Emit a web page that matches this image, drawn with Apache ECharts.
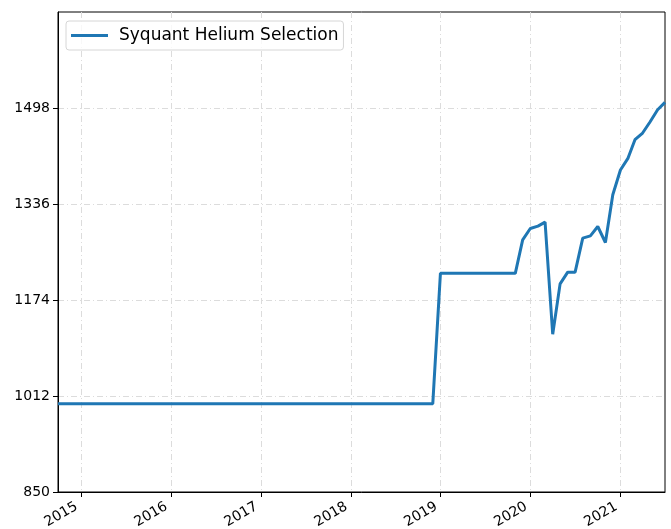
<!DOCTYPE html>
<html>
<head>
<meta charset="utf-8">
<script src="https://cdn.jsdelivr.net/npm/echarts@6/dist/echarts.min.js"></script>
<style>
  html, body { margin: 0; padding: 0; background: #fff; }
  #chart-container { width: 671px; height: 529px; }
</style>
</head>
<body>
<div id="chart-container"></div>
<script>
var seriesName = 'Syquant Helium Selection';

var dates = [
  '2014-09-30', '2014-10-31', '2014-11-30', '2014-12-31',
  '2015-01-31', '2015-02-28', '2015-03-31', '2015-04-30', '2015-05-31', '2015-06-30',
  '2015-07-31', '2015-08-31', '2015-09-30', '2015-10-31', '2015-11-30', '2015-12-31',
  '2016-01-31', '2016-02-29', '2016-03-31', '2016-04-30', '2016-05-31', '2016-06-30',
  '2016-07-31', '2016-08-31', '2016-09-30', '2016-10-31', '2016-11-30', '2016-12-31',
  '2017-01-31', '2017-02-28', '2017-03-31', '2017-04-30', '2017-05-31', '2017-06-30',
  '2017-07-31', '2017-08-31', '2017-09-30', '2017-10-31', '2017-11-30', '2017-12-31',
  '2018-01-31', '2018-02-28', '2018-03-31', '2018-04-30', '2018-05-31', '2018-06-30',
  '2018-07-31', '2018-08-31', '2018-09-30', '2018-10-31', '2018-11-30', '2018-12-31',
  '2019-01-31', '2019-02-28', '2019-03-31', '2019-04-30', '2019-05-31', '2019-06-30',
  '2019-07-31', '2019-08-31', '2019-09-30', '2019-10-31', '2019-11-30', '2019-12-31',
  '2020-01-31', '2020-02-29', '2020-03-31', '2020-04-30', '2020-05-31', '2020-06-30',
  '2020-07-31', '2020-08-31', '2020-09-30', '2020-10-31', '2020-11-30', '2020-12-31',
  '2021-01-31', '2021-02-28', '2021-03-31', '2021-04-30', '2021-05-31', '2021-06-30'
];

var values = [
  999, 999, 999, 999,
  999, 999, 999, 999, 999, 999, 999, 999, 999, 999, 999, 999,
  999, 999, 999, 999, 999, 999, 999, 999, 999, 999, 999, 999,
  999, 999, 999, 999, 999, 999, 999, 999, 999, 999, 999, 999,
  999, 999, 999, 999, 999, 999, 999, 999, 999, 999, 999, 1219,
  1219, 1219, 1219, 1219, 1219, 1219, 1219, 1219, 1219, 1219, 1275.5, 1294.6,
  1298.7, 1305.4, 1116.2, 1201.2, 1221, 1221, 1278.4, 1282.3, 1298, 1271, 1351.5, 1393.3,
  1413.5, 1444.5, 1455.8, 1474.4, 1495, 1507.5
];

var yTicks = [850, 1012, 1174, 1336, 1498];

var chartDom = document.getElementById('chart-container');
var myChart = echarts.init(chartDom, null, { renderer: 'canvas' });

var points = dates.map(function (d, i) { return [d, values[i]]; });
var fontFamily = 'DejaVu Sans';
var gridLine = {
  show: true, showMinLine: false, showMaxLine: false,
  lineStyle: { color: '#dcdcdc', width: 1, type: [6, 3, 1, 3] }
};

var option = {
  backgroundColor: '#fff',
  animation: false,
  grid: {
    left: 58, right: 6, top: 12, bottom: 37,
    outerBoundsMode: 'none',
    containLabel: false,
    show: true, borderColor: '#000', borderWidth: 1, backgroundColor: 'transparent'
  },
  legend: {
    show: true,
    left: 66, top: 21,
    padding: [6, 5, 6, 5],
    itemWidth: 37, itemHeight: 3, itemGap: 10,
    borderColor: '#d6d6d6', borderWidth: 1, borderRadius: 3,
    backgroundColor: 'rgba(255,255,255,0.8)',
    icon: 'rect',
    textStyle: { fontFamily: fontFamily, fontSize: 17, color: '#000', padding: [0, 0, 0, 6] },
    data: [seriesName]
  },
  xAxis: {
    type: 'time',
    min: '2014-09-30',
    max: '2021-06-30',
    minInterval: 365 * 86400000,
    maxInterval: 366 * 86400000,
    axisLine: { show: true, lineStyle: { color: '#000', width: 1 } },
    axisTick: { show: true, length: 5, lineStyle: { color: '#000' } },
    axisLabel: {
      rotate: 30,
      margin: 3,
      align: 'right',
      verticalAlign: 'top',
      padding: [0, 9, 0, 0],
      fontFamily: fontFamily, fontSize: 14, color: '#000',
      showMinLabel: false, showMaxLabel: false,
      formatter: function (v) {
        var d = new Date(v);
        if (d.getMonth() === 0 && d.getDate() === 1) return String(d.getFullYear());
        return '';
      }
    },
    splitLine: gridLine
  },
  yAxis: {
    type: 'value',
    min: 850,
    max: 1660,
    interval: 162,
    axisLine: { show: true, lineStyle: { color: '#000', width: 1 } },
    axisTick: { show: true, length: 5, lineStyle: { color: '#000' } },
    axisLabel: {
      margin: 8,
      fontFamily: fontFamily, fontSize: 14, color: '#000',
      showMaxLabel: false,
      formatter: function (v) { return yTicks.indexOf(v) >= 0 ? String(v) : ''; }
    },
    splitLine: gridLine
  },
  series: [{
    name: seriesName,
    type: 'line',
    data: points,
    showSymbol: false,
    symbol: 'none',
    lineStyle: { color: '#1f77b4', width: 3 },
    itemStyle: { color: '#1f77b4' }
  }]
};

option && myChart.setOption(option);
</script>
</body>
</html>
